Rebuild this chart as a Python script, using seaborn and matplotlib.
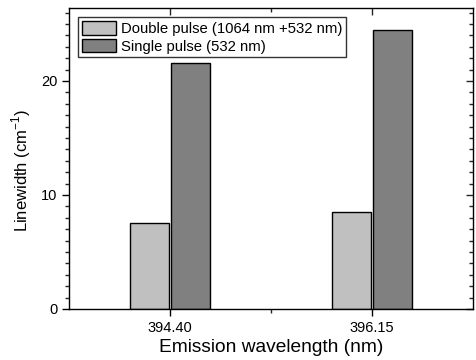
import matplotlib
matplotlib.use("Agg")
import matplotlib.pyplot as plt
from matplotlib.ticker import MultipleLocator, FixedLocator
import seaborn as sns
import pandas as pd

categories = ["394.40", "396.15"]
series_names = ["Double pulse (1064 nm +532 nm)", "Single pulse (532 nm)"]
double_pulse = [7.55, 8.55]
single_pulse = [21.55, 24.45]

sns.set_style("white")
plt.rcParams['font.family'] = ['Liberation Sans', 'DejaVu Sans']
plt.rcParams['text.color'] = 'black'
plt.rcParams['axes.labelcolor'] = 'black'

df = pd.DataFrame({
    "wavelength": categories * 2,
    "series": [series_names[0]] * 2 + [series_names[1]] * 2,
    "value": double_pulse + single_pulse,
})

fig = plt.figure(figsize=(4.77, 3.60), dpi=100)
ax = fig.add_axes([69/477, 1 - 309/360, (473-69)/477, (309-8)/360])

sns.barplot(data=df, x="wavelength", y="value", hue="series", order=categories,
            hue_order=series_names, palette=["#C0C0C0", "#808080"],
            width=0.41, gap=0.07, edgecolor="black", linewidth=1.0,
            saturation=1, ax=ax)

ax.set_xlim(-0.5, 1.5)
ax.set_ylim(0, 26.4)
ax.yaxis.set_major_locator(FixedLocator([0, 10, 20]))
ax.yaxis.set_minor_locator(MultipleLocator(1))
ax.xaxis.set_minor_locator(FixedLocator([0.5]))

for s in ax.spines.values():
    s.set_visible(True)
    s.set_color("black")
    s.set_linewidth(1.0)

ax.tick_params(axis="both", which="major", direction="out", length=5, width=1,
               labelsize=10.5, colors="black", bottom=True, left=True, top=False, right=False)
ax.tick_params(axis="both", which="minor", direction="out", length=3, width=1,
               bottom=True, left=True, top=False, right=False)

# mirrored inward ticks on top/right
sec_x = ax.secondary_xaxis("top")
sec_x.set_xticks([0, 1])
sec_x.xaxis.set_minor_locator(FixedLocator([0.5]))
sec_x.tick_params(which="major", direction="in", length=5, width=1, labeltop=False)
sec_x.tick_params(which="minor", direction="in", length=3, width=1)
sec_x.spines["top"].set_visible(False)
sec_y = ax.secondary_yaxis("right")
sec_y.set_yticks([0, 10, 20])
sec_y.yaxis.set_minor_locator(MultipleLocator(1))
sec_y.tick_params(which="major", direction="in", length=5, width=1, labelright=False)
sec_y.tick_params(which="minor", direction="in", length=3, width=1)
sec_y.spines["right"].set_visible(False)

ax.set_xlabel("Emission wavelength (nm)", fontsize=13.8, labelpad=3)
ax.set_ylabel(r"Linewidth (cm$^{\mathregular{-1}}$)", fontsize=12)
ax.yaxis.set_label_coords(-0.088, 0.46)

leg = ax.legend(loc="upper left", bbox_to_anchor=(0.022, 0.97), fontsize=10.7,
                frameon=True, fancybox=False, edgecolor="black",
                handlelength=2.3, handleheight=1.05, borderpad=0.25,
                labelspacing=0.2, handletextpad=0.35, borderaxespad=0.0)
leg.get_frame().set_linewidth(1.0)
for t in leg.get_texts():
    t.set_color("black")

fig.savefig("out.png", dpi=100)
